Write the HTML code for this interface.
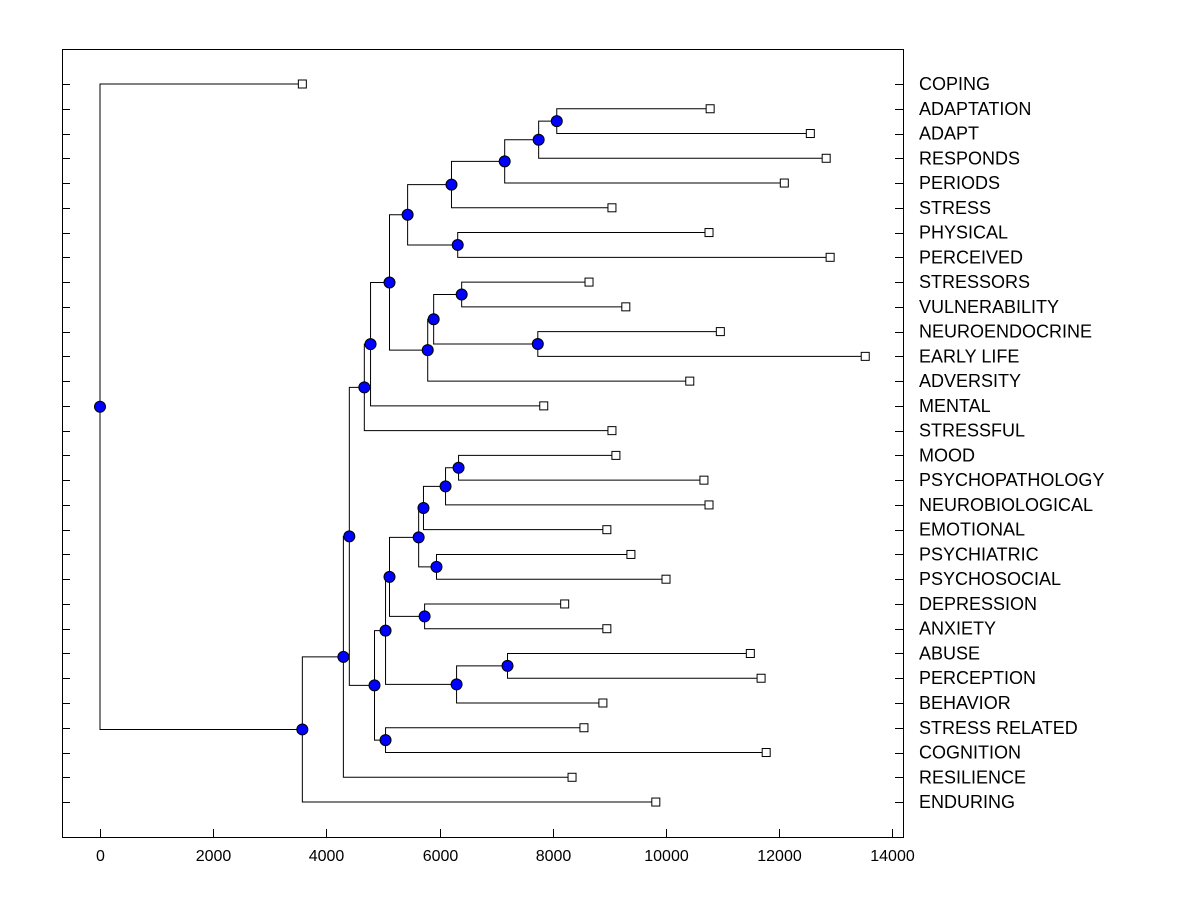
<!DOCTYPE html>
<html><head><meta charset="utf-8"><style>
body{margin:0;background:#fff;}
svg{display:block;font-family:"Liberation Sans",Arial,sans-serif;}
</style></head><body>
<svg id="chart" width="1200" height="900">
<rect x="62.5" y="49.5" width="841" height="788" fill="none" stroke="#000"/>
</svg>
<script>
const leafLabels = ["COPING","ADAPTATION","ADAPT","RESPONDS","PERIODS","STRESS","PHYSICAL","PERCEIVED","STRESSORS","VULNERABILITY","NEUROENDOCRINE","EARLY LIFE","ADVERSITY","MENTAL","STRESSFUL","MOOD","PSYCHOPATHOLOGY","NEUROBIOLOGICAL","EMOTIONAL","PSYCHIATRIC","PSYCHOSOCIAL","DEPRESSION","ANXIETY","ABUSE","PERCEPTION","BEHAVIOR","STRESS RELATED","COGNITION","RESILIENCE","ENDURING"];
const leafValues = [3575,10780,12550,12830,12090,9045,10760,12900,8640,9290,10960,13520,10420,7840,9045,9115,10670,10760,8955,9380,10000,8210,8955,11490,11680,8885,8550,11770,8340,9820];
const mergeIds = ["O","N","M","K","L","I","Q","R","P","J","H","G","E","ZZ","Z","Z2","AA","X","Y","U","W","V","S","T","F","C","B","A","ROOT"];
const mergeLeft = ["1","O","N","M","6","K","8","10","Q","P","I","H","G","15","ZZ","Z","19","Z2","21","X","23","W","U","26","S","E","28","29","0"];
const mergeRight = ["2","3","4","5","7","L","9","11","R","12","J","13","14","16","17","18","20","AA","22","Y","24","25","V","27","T","F","C","B","A"];
const mergeHeights = [8070,7750,7150,6210,6320,5435,6390,7735,5895,5790,5115,4780,4670,6335,6105,5715,5945,5630,5735,5115,7200,6300,5045,5045,4850,4405,4300,3575,0];
const xTicks = [0,2000,4000,6000,8000,10000,12000,14000];

const svg = document.getElementById('chart');
const NS = "http://www.w3.org/2000/svg";
const xS = v => 100 + v * 0.0566;
const yS = i => 84 + i * 24.76;
function mk(tag, attrs){const e=document.createElementNS(NS,tag);for(const k in attrs)e.setAttribute(k,attrs[k]);svg.appendChild(e);return e;}

leafLabels.forEach((l,i)=>{
  const y = Math.round(yS(i))+0.5;
  let t=mk('line',{x1:62,x2:70,y1:y,y2:y,stroke:'#000'});
  
  
  t=mk('line',{x1:895,x2:903,y1:y,y2:y,stroke:'#000'});
  
  
});
xTicks.forEach(v=>{
  const x=Math.round(xS(v))+0.5;
  const t=mk('line',{x1:x,x2:x,y1:829,y2:837,stroke:'#000'});
  
  
  const tx=mk('text',{x:x,y:861,'text-anchor':'middle','font-size':'16'});
  tx.textContent=v;
  
  
});

const pos = {};
leafLabels.forEach((l,i)=>{pos[String(i)]={x:xS(leafValues[i]),y:yS(i)};});
const dots=[];
mergeIds.forEach((id,k)=>{
  const a=pos[mergeLeft[k]], b=pos[mergeRight[k]];
  const x=xS(mergeHeights[k]), y=(a.y+b.y)/2;
  pos[id]={x:x,y:y};
  const p=mk('path',{d:`M${a.x},${a.y}H${x}V${b.y}H${b.x}`,fill:'none',stroke:'#000','stroke-width':1});
  
  
  dots.push({x:x,y:y,id:id});
});
leafLabels.forEach((l,i)=>{
  const p=pos[String(i)];
  const r=mk('rect',{x:p.x-4,y:p.y-4,width:8,height:8,fill:'#fff',stroke:'#000'});
  
  
  const t=mk('text',{x:919,y:p.y+6,'font-size':'18'});
  t.textContent=l;
  
  
});
dots.forEach(d=>{
  const c=mk('circle',{cx:d.x,cy:d.y,r:5.5,fill:'#0000ff',stroke:'#000'});
  
  
});
</script>
</body></html>
